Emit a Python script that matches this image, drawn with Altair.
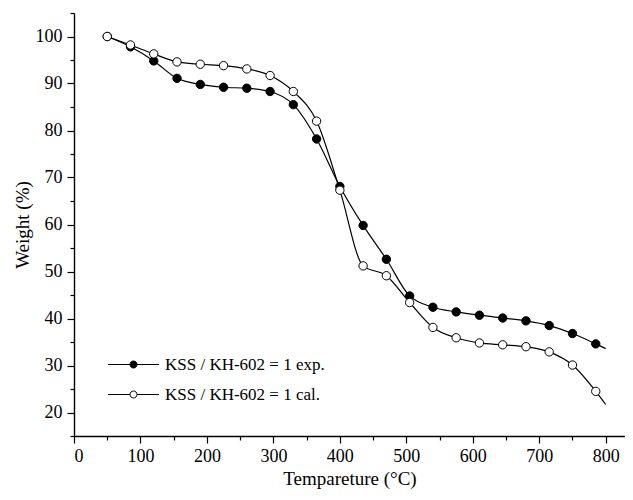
import altair as alt
import pandas as pd

temps = [50, 85, 120, 155, 190, 225, 260, 295, 330, 365, 400, 435, 470, 505,
         540, 575, 610, 645, 680, 715, 750, 785]
exp_w = [100.0, 97.8, 94.8, 91.1, 89.8, 89.2, 89.0, 88.3, 85.5, 78.2, 68.1, 59.8,
         52.6, 44.8, 42.4, 41.4, 40.7, 40.1, 39.5, 38.5, 36.8, 34.6]
cal_w = [100.0, 98.2, 96.3, 94.6, 94.1, 93.8, 93.1, 91.7, 88.3, 82.0, 67.3, 51.2,
         49.1, 43.4, 38.1, 35.9, 34.8, 34.4, 34.0, 32.9, 30.1, 24.5]
end_t = 800
exp_end = 33.6
cal_end = 21.7

lab_exp = "KSS / KH-602 = 1 exp."
lab_cal = "KSS / KH-602 = 1 cal."

FONT = "Liberation Serif"

pts = pd.DataFrame({
    "T": temps + temps,
    "W": exp_w + cal_w,
    "series": [lab_exp] * len(temps) + [lab_cal] * len(temps),
})
lines = pd.concat([
    pts,
    pd.DataFrame({"T": [end_t, end_t], "W": [exp_end, cal_end], "series": [lab_exp, lab_cal]}),
], ignore_index=True)

xs = alt.Scale(domain=[0, 829], nice=False, zero=False)
ys = alt.Scale(domain=[15, 105], nice=False, zero=False)

xaxis = alt.Axis(
    title="Tempareture (°C)",
    values=list(range(0, 850, 50)),
    tickCount=100,
    labelExpr="datum.value % 100 === 0 ? datum.label : ''",
    tickSize={"condition": {"test": "datum.value % 100 === 0", "value": 7}, "value": 4},
    labelOverlap=False,
    labelPadding=4,
    titlePadding=4,
)
yaxis = alt.Axis(
    title="Weight (%)",
    values=list(range(15, 106, 5)),
    tickCount=100,
    labelExpr="datum.value % 10 === 0 ? datum.label : ''",
    tickSize={"condition": {"test": "datum.value % 10 === 0", "value": 7}, "value": 4},
    labelOverlap=False,
    labelPadding=5,
    titlePadding=3,
)

legend_symbol = "M-7.3,0L-1,0M1,0L7.3,0M-1,0A1,1 0 1,1 1,0A1,1 0 1,1 -1,0Z"

line = alt.Chart(lines).mark_line(interpolate="monotone", color="black", strokeWidth=1.2).encode(
    x=alt.X("T:Q", scale=xs, axis=xaxis),
    y=alt.Y("W:Q", scale=ys, axis=yaxis),
    detail="series:N",
)

point = alt.Chart(pts).mark_point(shape="circle", size=70, stroke="black", strokeWidth=1, opacity=1).encode(
    x=alt.X("T:Q", scale=xs),
    y=alt.Y("W:Q", scale=ys),
    fill=alt.Fill(
        "series:N",
        scale=alt.Scale(domain=[lab_exp, lab_cal], range=["black", "white"]),
        legend=alt.Legend(
            title=None,
            orient="none",
            legendX=51,
            legendY=343,
            padding=0,
            symbolType=legend_symbol,
            symbolSize=49,
            symbolStrokeColor="black",
            symbolStrokeWidth=1,
            labelOffset=23,
            labelFontSize=17,
            labelFont=FONT,
            labelColor="black",
            rowPadding=12,
        ),
    ),
)

chart = alt.layer(line, point).properties(
    width=551,
    height=423,
    autosize=alt.AutoSizeParams(type="none"),
    padding={"left": 66, "top": 5, "right": 0, "bottom": 56},
).configure_view(stroke=None).configure_axis(
    grid=False,
    domainColor="black",
    domainWidth=1.4,
    tickColor="black",
    tickWidth=1.2,
    labelColor="black",
    labelFont=FONT,
    labelFontSize=18,
    titleFont=FONT,
    titleFontSize=19,
    titleFontWeight="normal",
    titleColor="black",
)

chart.save("out.html", embed_options={"renderer": "svg", "actions": False})
